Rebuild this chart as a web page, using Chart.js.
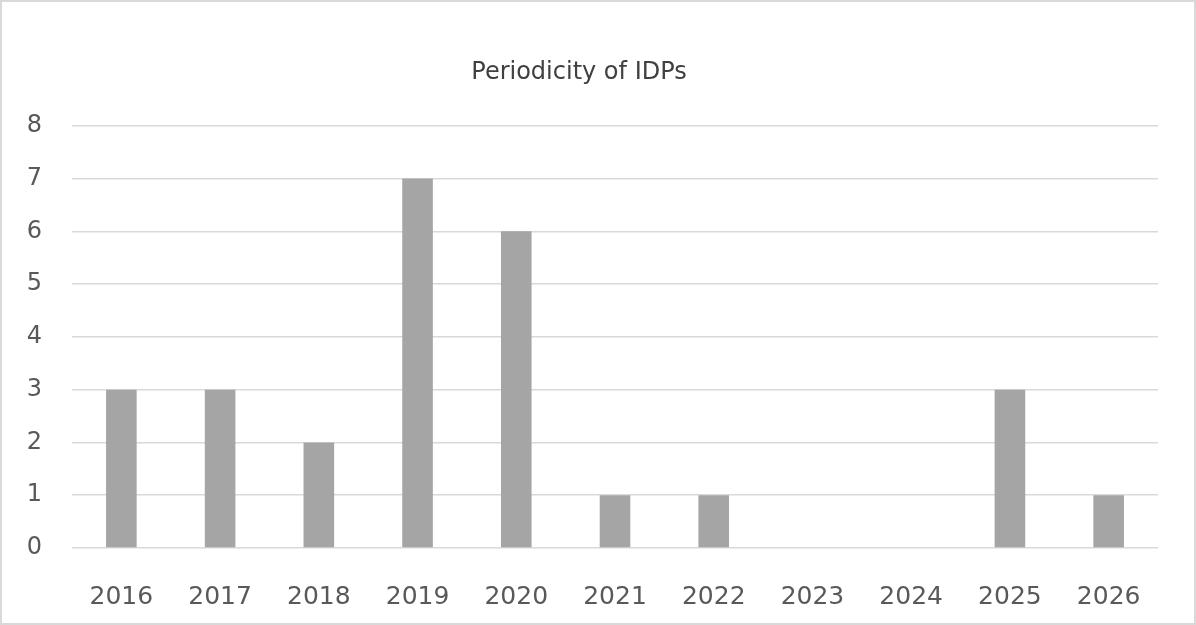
<!DOCTYPE html>
<html>
<head>
<meta charset="utf-8">
<script src="https://cdn.jsdelivr.net/npm/chart.js@4"></script>
<style>
  html, body { margin: 0; padding: 0; background: #fff; }
  #wrap { position: relative; width: 1196px; height: 625px; }
  #frame { position: absolute; left: 0; top: 0; width: 1196px; height: 625px;
           box-sizing: border-box; border: 2px solid #d9d9d9; pointer-events: none; }
  canvas { position: absolute; left: 0; top: 0; }
</style>
</head>
<body>
<div id="wrap">
  <canvas id="chart" width="1196" height="625"></canvas>
  <div id="frame"></div>
</div>
<script>
"use strict";
// chart data
const years = ["2016", "2017", "2018", "2019", "2020", "2021", "2022", "2023", "2024", "2025", "2026"];
const counts = [3, 3, 2, 7, 6, 1, 1, 0, 0, 3, 1];
const yTicks = [0, 1, 2, 3, 4, 5, 6, 7, 8];

const ctx = document.getElementById('chart').getContext('2d');
new Chart(ctx, {
  type: 'bar',
  data: {
    labels: years,
    datasets: [{
      label: 'IDPs',
      data: counts,
      backgroundColor: '#a5a5a5',
      borderWidth: 0,
      categoryPercentage: 1,
      barPercentage: 0.31
    }]
  },
  options: {
    responsive: false,
    animation: false,
    layout: { padding: { left: 0, right: 38, top: 0, bottom: 0 } },
    plugins: {
      legend: { display: false },
      tooltip: { enabled: false },
      title: {
        display: true,
        text: 'Periodicity of IDPs',
        color: '#404040',
        font: { family: 'DejaVu Sans', size: 24, weight: 'normal', lineHeight: 1.2 },
        padding: { top: 58, bottom: 39 }
      }
    },
    scales: {
      x: {
        grid: { display: false },
        border: { display: false },
        ticks: {
          color: '#595959',
          font: { family: 'DejaVu Sans', size: 25 },
          padding: 26,
          maxRotation: 0
        },
        afterFit: (scale) => { scale.height = 77; }
      },
      y: {
        min: yTicks[0],
        max: yTicks[yTicks.length - 1],
        afterBuildTicks: (scale) => { scale.ticks = yTicks.map(v => ({ value: v })); },
        grid: { color: '#d9d9d9', lineWidth: 1.5, drawTicks: false },
        border: { display: false },
        ticks: {
          color: '#595959',
          font: { family: 'DejaVu Sans', size: 24 },
          padding: 30
        },
        afterFit: (scale) => { scale.width = 72; }
      }
    }
  }
});
</script>
</body>
</html>
